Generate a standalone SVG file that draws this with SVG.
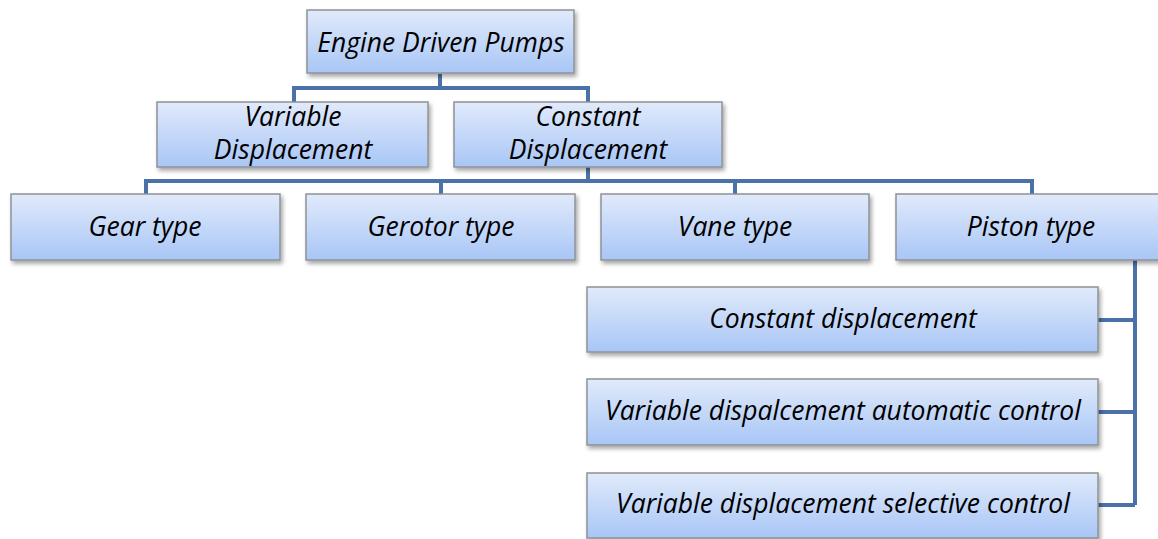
<svg xmlns="http://www.w3.org/2000/svg" width="1158" height="539" viewBox="0 0 1158 539">
  <defs>
    <linearGradient id="boxFill" x1="0" y1="0" x2="0" y2="1">
      <stop offset="0" stop-color="#e1eafb"/>
      <stop offset="1" stop-color="#a8c6f6"/>
    </linearGradient>
    <filter id="shadow" x="-10%" y="-20%" width="120%" height="150%">
      <feDropShadow dx="2" dy="3" stdDeviation="2" flood-color="#000" flood-opacity="0.35"/>
    </filter>
  </defs>
  <style>
    .box { fill: url(#boxFill); stroke: #8f9296; stroke-width: 1.5; filter: url(#shadow); }
    .lbl { font-family: "Open Sans", Lato, "Liberation Sans", sans-serif; font-style: italic; font-size: 26.5px; fill: #000; text-anchor: middle; }
    .wire { fill: none; stroke: #4a72a8; stroke-width: 4; stroke-linejoin: miter; }
  </style>

  <rect width="1158" height="539" fill="#fff"/>

  <!-- connectors -->
  <g id="connectors">
    <path class="wire" d="M440 74 V88 M294 102 V88 H588 V102"/>
    <path class="wire" d="M588 167 V181 M146 194 V181 H1032 V194 M441 181 V194 M735 181 V194"/>
    <path class="wire" d="M1135 260 V505 M1098 320 H1135 M1098 412 H1135 M1098 505 H1135"/>
  </g>

  <g id="engine-driven-pumps">
    <rect class="box" x="307" y="10" width="267" height="63"/>
    <text class="lbl" x="441" y="52">Engine Driven Pumps</text>
  </g>

  <g id="variable-displacement">
    <rect class="box" x="157" y="102" width="271" height="65"/>
    <text class="lbl" x="293" y="126">Variable</text>
    <text class="lbl" x="293" y="159">Displacement</text>
  </g>

  <g id="constant-displacement">
    <rect class="box" x="454" y="102" width="268" height="65"/>
    <text class="lbl" x="588" y="126">Constant</text>
    <text class="lbl" x="588" y="159">Displacement</text>
  </g>

  <g id="gear-type">
    <rect class="box" x="11" y="194" width="269" height="66"/>
    <text class="lbl" x="145" y="236">Gear type</text>
  </g>

  <g id="gerotor-type">
    <rect class="box" x="306" y="194" width="269" height="66"/>
    <text class="lbl" x="441" y="236">Gerotor type</text>
  </g>

  <g id="vane-type">
    <rect class="box" x="601" y="194" width="268" height="66"/>
    <text class="lbl" x="735" y="236">Vane type</text>
  </g>

  <g id="piston-type">
    <rect class="box" x="896" y="194" width="270" height="66"/>
    <text class="lbl" x="1031" y="236">Piston type</text>
  </g>

  <g id="constant-displacement-piston">
    <rect class="box" x="587" y="287" width="511" height="65"/>
    <text class="lbl" x="843" y="328">Constant displacement</text>
  </g>

  <g id="variable-automatic-control">
    <rect class="box" x="587" y="379" width="511" height="66"/>
    <text class="lbl" x="843" y="420">Variable dispalcement automatic control</text>
  </g>

  <g id="variable-selective-control">
    <rect class="box" x="587" y="473" width="511" height="65"/>
    <text class="lbl" x="843" y="513">Variable displacement selective control</text>
  </g>
</svg>
